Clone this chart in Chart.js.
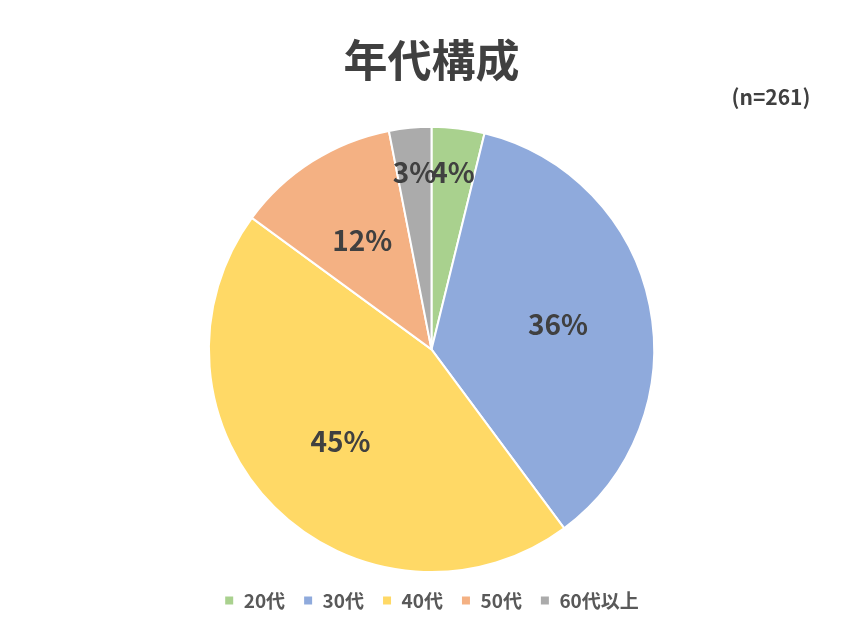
<!DOCTYPE html>
<html lang="ja">
<head>
<meta charset="utf-8">
<script src="https://cdn.jsdelivr.net/npm/chart.js@4.4.1/dist/chart.umd.min.js"></script>
<style>
  html, body { margin: 0; padding: 0; background: #fff; }
  #wrap { width: 853px; height: 640px; }
</style>
</head>
<body>
<div id="wrap"><canvas id="chart"></canvas></div>
<script>
// データ
const categories = ['20代', '30代', '40代', '50代', '60代以上'];
const counts = [10, 94, 118, 31, 8];
const sampleSize = 261;
const colors = ['#A9D18E', '#8FAADC', '#FFD966', '#F4B183', '#ABABAB'];

const font = '"Noto Sans CJK JP", "Noto Sans", sans-serif';

// スライス内にパーセント表示
const pctLabels = {
  id: 'pctLabels',
  afterDatasetsDraw(chart) {
    const ctx = chart.ctx;
    const meta = chart.getDatasetMeta(0);
    const total = counts.reduce((a, b) => a + b, 0);
    ctx.save();
    ctx.font = 'bold 28px ' + font;
    ctx.fillStyle = '#404040';
    ctx.textAlign = 'center';
    ctx.textBaseline = 'middle';
    meta.data.forEach((arc, i) => {
      const share = counts[i] / total;
      const r = arc.outerRadius * (share < 0.05 ? 0.8 : 0.58);
      const mid = (arc.startAngle + arc.endAngle) / 2;
      const x = arc.x + Math.cos(mid) * r;
      const y = arc.y + Math.sin(mid) * r;
      ctx.fillText(Math.round(share * 100) + '%', x, y);
    });
    // (n=261)
    ctx.font = 'bold 21px ' + font;
    ctx.fillText('(n=' + sampleSize + ')', 771, 97);
    ctx.restore();
  }
};

new Chart(document.getElementById('chart'), {
  type: 'pie',
  data: {
    labels: categories,
    datasets: [{
      data: counts,
      backgroundColor: colors,
      borderColor: '#ffffff',
      borderWidth: 2,
    }],
  },
  options: {
    responsive: true,
    maintainAspectRatio: false,
    animation: false,
    layout: { padding: { left: 10, right: 0, top: 0, bottom: 20 } },
    plugins: {
      title: {
        display: true,
        text: '年代構成',
        color: '#404040',
        font: { family: font, size: 44, weight: 'bold' },
        padding: { top: 34, bottom: 39 },
      },
      legend: {
        position: 'bottom',
        labels: {
          color: '#595959',
          font: { family: font, size: 19, weight: 'bold' },
          boxWidth: 10,
          boxHeight: 10,
          padding: 18,
        },
      },
      tooltip: { enabled: false },
    },
  },
  plugins: [pctLabels],
});
</script>
</body>
</html>
